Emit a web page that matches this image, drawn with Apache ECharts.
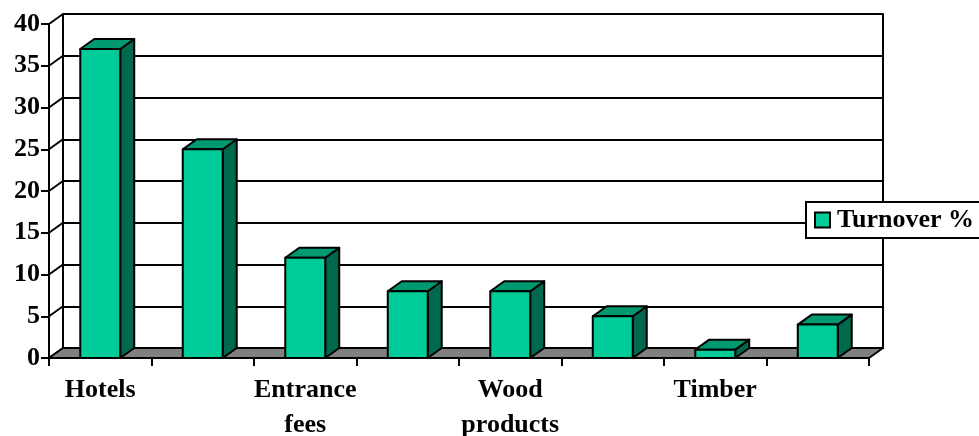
<!DOCTYPE html>
<html>
<head>
<meta charset="utf-8">
<script src="https://cdn.jsdelivr.net/npm/echarts@6/dist/echarts.min.js"></script>
<style>
  html, body { margin: 0; padding: 0; background: #fff; }
  #chart { width: 979px; height: 436px; }
</style>
</head>
<body>
<div id="chart"></div>
<script>
// Turnover share by income source (%)
const categories = ['Hotels', '', 'Entrance\nfees', '', 'Wood\nproducts', '', 'Timber', ''];
const turnover = [37, 25, 12, 8, 8, 5, 1, 4];
const yTicks = [0, 5, 10, 15, 20, 25, 30, 35, 40];
const seriesName = 'Turnover %';

const FONT = "'Liberation Serif', 'Times New Roman', serif";
const FS = 26;
const DX = 14, DY = -10;          // depth offset of the 3D box
const FRONT = '#00cc99', TOP = '#009970', SIDE = '#00684c';

const chart = echarts.init(document.getElementById('chart'));

function barItem(params, api) {
  const idx = api.value(0);
  const v = api.value(1);
  const base = api.coord([idx, 0]);
  const top = api.coord([idx, v]);
  const bw = api.size([1, 0])[0] * 0.39;
  const x0 = top[0] - bw / 2, x1 = x0 + bw;
  const ty = top[1], by = base[1];
  const st = { stroke: '#000', lineWidth: 2, lineJoin: 'round' };
  return {
    type: 'group',
    children: [
      { type: 'polygon', shape: { points: [[x1, ty], [x1 + DX, ty + DY], [x1 + DX, by + DY], [x1, by]] },
        style: Object.assign({ fill: SIDE }, st) },
      { type: 'polygon', shape: { points: [[x0, ty], [x1, ty], [x1 + DX, ty + DY], [x0 + DX, ty + DY]] },
        style: Object.assign({ fill: TOP }, st) },
      { type: 'rect', shape: { x: x0, y: ty, width: bw, height: by - ty },
        style: Object.assign({ fill: FRONT }, st) }
    ]
  };
}

function wallItem(params, api) {
  const cs = params.coordSys;
  const y = api.coord([0, api.value(1)])[1];
  return {
    type: 'line',
    shape: { x1: cs.x, y1: y, x2: cs.x + DX, y2: y + DY },
    style: { stroke: '#000', lineWidth: 2 }
  };
}

function floorItem(params, api) {
  const cs = params.coordSys;
  const y = api.coord([0, 0])[1];
  const xl = cs.x, xr = cs.x + cs.width;
  return {
    type: 'polygon',
    shape: { points: [[xl, y], [xr, y], [xr + DX, y + DY], [xl + DX, y + DY]] },
    style: { fill: '#808080', stroke: '#000', lineWidth: 2, lineJoin: 'round' }
  };
}

chart.setOption({
  animation: false,
  backgroundColor: '#fff',
  textStyle: { fontFamily: FONT },
  legend: {
    data: [seriesName],
    left: 806, top: 202,
    orient: 'vertical',
    padding: [5, 10, 5, 8],
    itemWidth: 15, itemHeight: 15,
    itemGap: 0,
    icon: 'rect',
    backgroundColor: '#fff',
    borderColor: '#000', borderWidth: 2, borderRadius: 0,
    itemStyle: { borderColor: '#000', borderWidth: 2 },
    textStyle: { fontFamily: FONT, fontWeight: 'bold', fontSize: FS, color: '#000', padding: [0, 0, 0, 2] }
  },
  grid: [
    { left: 49, right: 110, top: 24, bottom: 78, outerBoundsMode: 'none', containLabel: false },   // front plane
    { left: 63, right: 96, top: 14, bottom: 88, outerBoundsMode: 'none', containLabel: false }     // back wall
  ],
  xAxis: [
    {
      gridIndex: 0, type: 'category', data: categories,
      boundaryGap: true,
      axisLine: { show: true, lineStyle: { color: '#000', width: 2 } },
      axisTick: { show: true, interval: 0, length: 8, lineStyle: { color: '#000', width: 2 } },
      axisLabel: { interval: 0, color: '#000', fontFamily: FONT, fontWeight: 'bold', fontSize: FS,
                   lineHeight: 35, margin: 15 },
      z: 5
    },
    { gridIndex: 1, type: 'value', show: false, min: 0, max: 1 }
  ],
  yAxis: [
    {
      gridIndex: 0, type: 'value', min: 0, max: 40, interval: 5,
      axisLine: { show: true, lineStyle: { color: '#000', width: 2 } },
      axisTick: { show: true, length: 8, lineStyle: { color: '#000', width: 2 } },
      axisLabel: { color: '#000', fontFamily: FONT, fontWeight: 'bold', fontSize: FS, margin: 9 },
      splitLine: { show: false }
    },
    {
      gridIndex: 1, type: 'value', min: 0, max: 40, interval: 5, position: 'left',
      axisLine: { show: true, lineStyle: { color: '#000', width: 2 } },
      axisTick: { show: false }, axisLabel: { show: false },
      splitLine: { show: true, lineStyle: { color: '#000', width: 2 } }
    },
    {
      gridIndex: 1, type: 'value', min: 0, max: 40, interval: 5, position: 'right',
      axisLine: { show: true, lineStyle: { color: '#000', width: 2 } },
      axisTick: { show: false }, axisLabel: { show: false }, splitLine: { show: false }
    }
  ],
  series: [
    {
      name: 'wall', type: 'custom', xAxisIndex: 0, yAxisIndex: 0, z: 2, silent: true,
      renderItem: wallItem,
      data: yTicks.map(t => [0, t])
    },
    {
      name: 'floor', type: 'custom', xAxisIndex: 0, yAxisIndex: 0, z: 3, silent: true,
      renderItem: floorItem,
      data: [[0, 0]]
    },
    {
      name: seriesName, type: 'custom', xAxisIndex: 0, yAxisIndex: 0, z: 4,
      itemStyle: { color: FRONT },
      renderItem: barItem,
      data: turnover.map((v, i) => [i, v])
    }
  ]
});
</script>
</body>
</html>
